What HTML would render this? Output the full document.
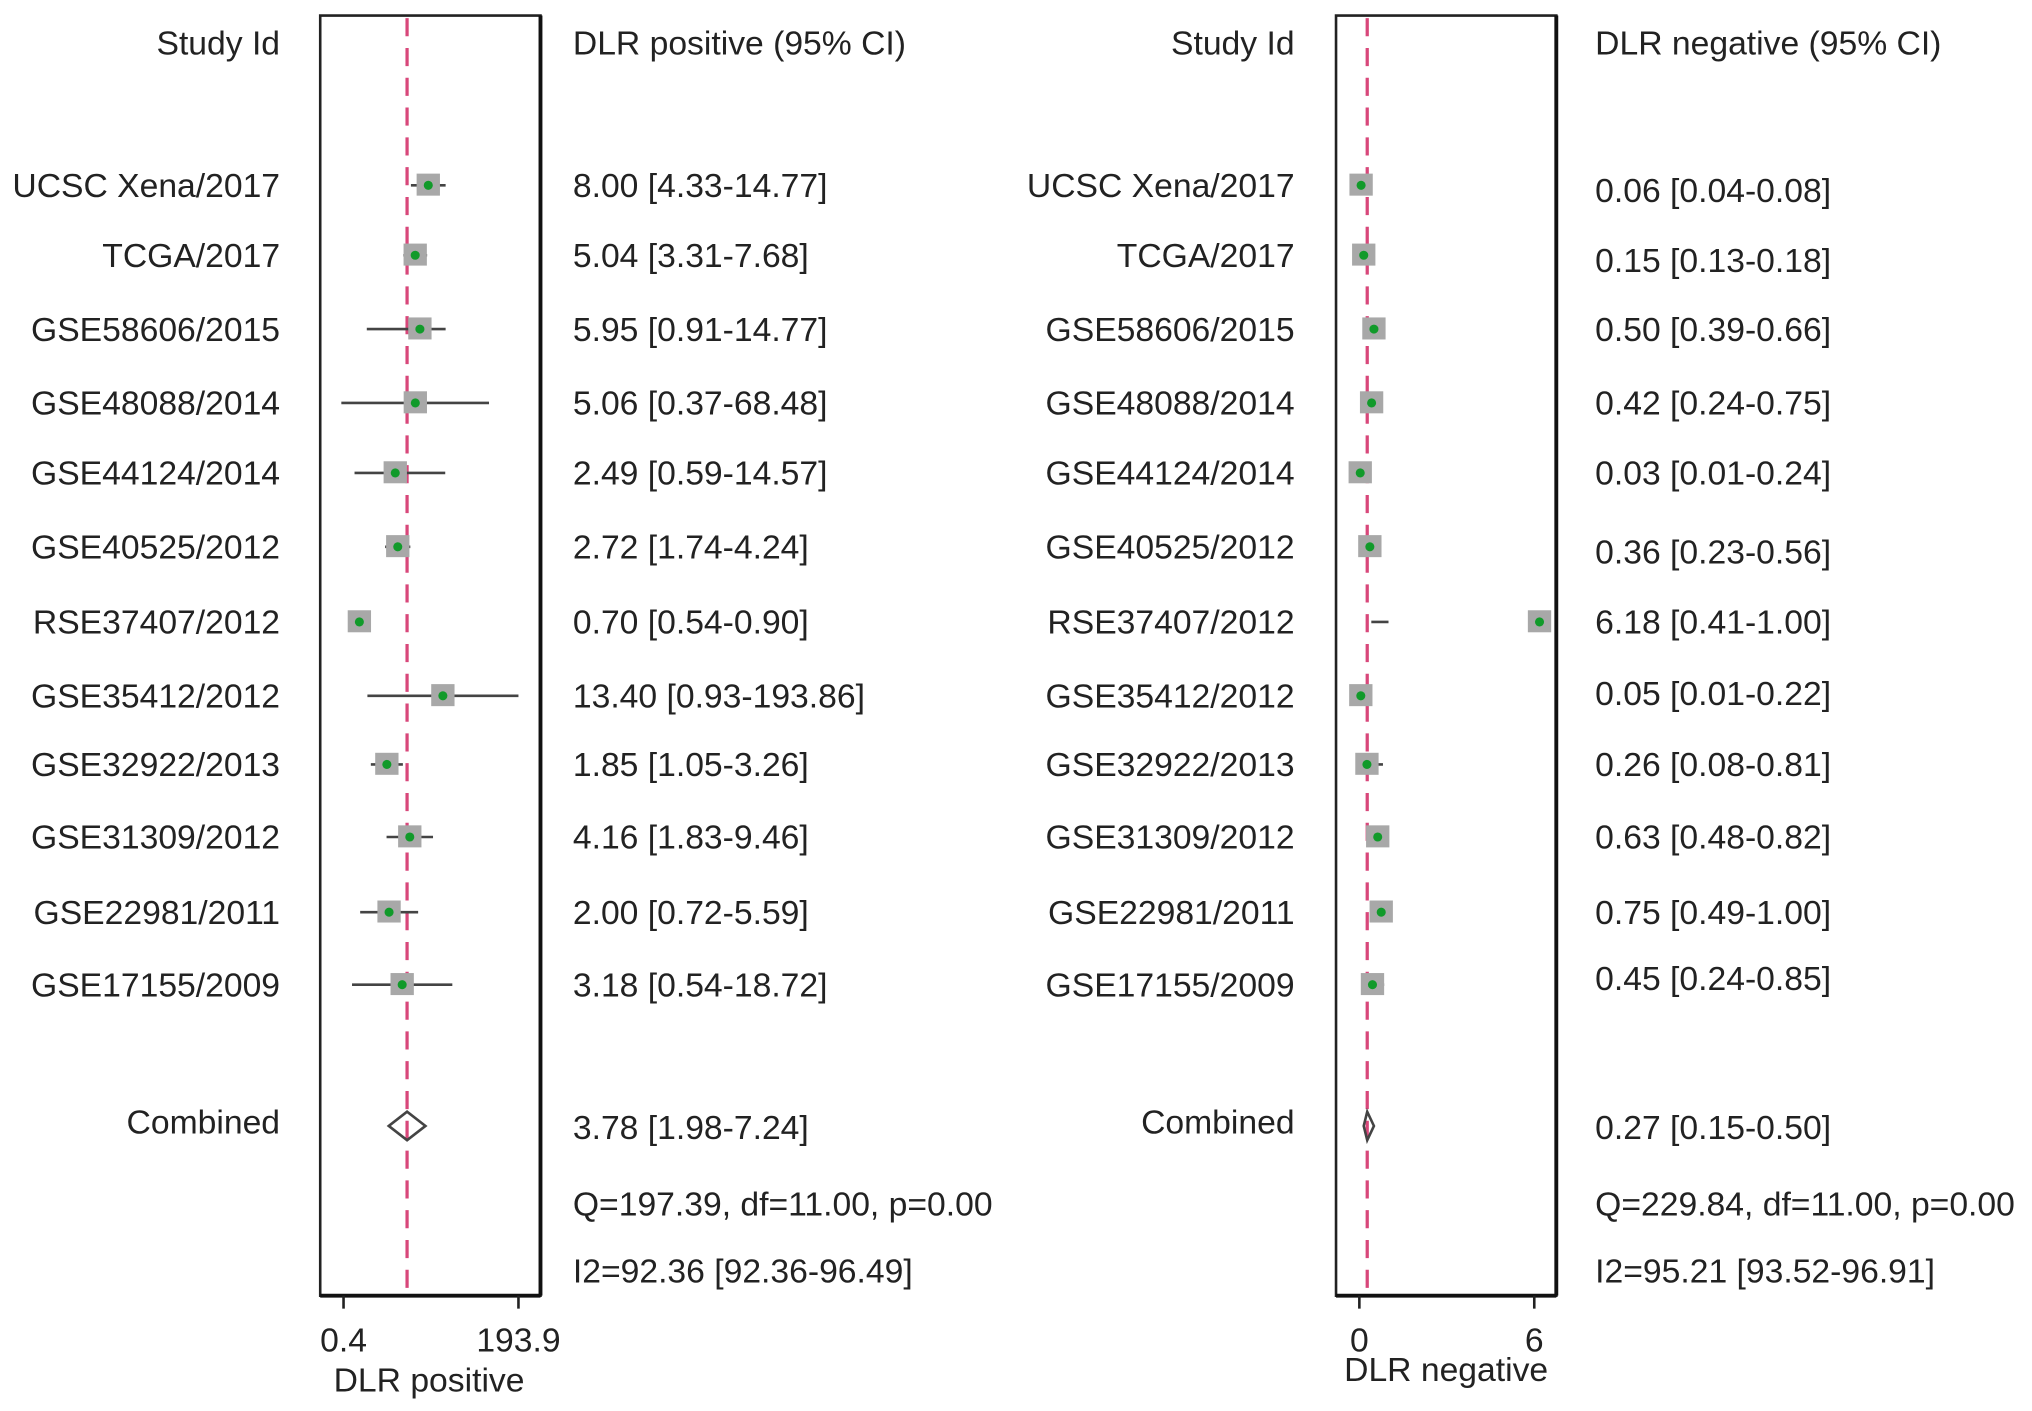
<!DOCTYPE html>
<html><head><meta charset="utf-8"><style>
html,body{margin:0;padding:0;background:#fff;}
svg{display:block;}
text{font-family:"Liberation Sans",sans-serif;font-size:26px;fill:#222;}
</style></head><body>
<svg id="chart" width="2032" height="1411" viewBox="0 0 1568 1089" xmlns="http://www.w3.org/2000/svg">
</svg>
<script>
const studies = ["UCSC Xena/2017","TCGA/2017","GSE58606/2015","GSE48088/2014","GSE44124/2014","GSE40525/2012","RSE37407/2012","GSE35412/2012","GSE32922/2013","GSE31309/2012","GSE22981/2011","GSE17155/2009"];
const posEst = [8.00,5.04,5.95,5.06,2.49,2.72,0.70,13.40,1.85,4.16,2.00,3.18];
const posLo = [4.33,3.31,0.91,0.37,0.59,1.74,0.54,0.93,1.05,1.83,0.72,0.54];
const posHi = [14.77,7.68,14.77,68.48,14.57,4.24,0.90,193.86,3.26,9.46,5.59,18.72];
const posComb = [3.78,1.98,7.24];
const negEst = [0.06,0.15,0.50,0.42,0.03,0.36,6.18,0.05,0.26,0.63,0.75,0.45];
const negLo = [0.04,0.13,0.39,0.24,0.01,0.23,0.41,0.01,0.08,0.48,0.49,0.24];
const negHi = [0.08,0.18,0.66,0.75,0.24,0.56,1.00,0.22,0.81,0.82,1.00,0.85];
const negComb = [0.27,0.15,0.50];
const posStats = ["Q=197.39, df=11.00, p=0.00","I2=92.36 [92.36-96.49]"];
const negStats = ["Q=229.84, df=11.00, p=0.00","I2=95.21 [93.52-96.91]"];
const posTicks = [0.4,193.9];
const posTickLabels = ["0.4","193.9"];
const negTicks = [0,6];
const negTickLabels = ["0","6"];

const rowY = [143,197,254,311,365,422,480,537,590,646,704,760];
const combY = 869;
const svg = document.getElementById('chart');
const NS = "http://www.w3.org/2000/svg";
function mk(tag, attrs, parent){const e=document.createElementNS(NS,tag);for(const k in attrs)e.setAttribute(k,attrs[k]);(parent||svg).appendChild(e);return e;}
function txt(s,x,y,anchor,parent){const t=mk('text',{x:x,y:y,'text-anchor':anchor||'start'},parent);t.textContent=s;return t;}
function fmt(v){return v.toFixed(2);}

function panel(cfg){
  const g=mk('g',{});
  
  
  const X=cfg.scale;
  const h1=txt("Study Id",cfg.labelX,42,'end',g);
  
  const h2=txt(cfg.header,cfg.valX,42,'start',g);
  
  const b=mk('path',{d:`M${cfg.x0},${1000} L${cfg.x0},12 L${cfg.x1},12 L${cfg.x1},1000 Z`,fill:'none',stroke:'#222','stroke-width':2},g);
  
  mk('line',{x1:cfg.x1,y1:12,x2:cfg.x1,y2:1000,stroke:'#111','stroke-width':3},g);
  mk('line',{x1:cfg.x0,y1:1000,x2:cfg.x1,y2:1000,stroke:'#111','stroke-width':3},g);
  const r=mk('line',{x1:X(cfg.comb[0]),y1:14,x2:X(cfg.comb[0]),y2:999,stroke:'#d8477a','stroke-width':2.5,'stroke-dasharray':'14,9'},g);
  
  studies.forEach((s,i)=>{
    const y=rowY[i];
    const l=txt(s,cfg.labelX,y+9,'end',g);
    
    const v=txt(`${fmt(cfg.est[i])} [${fmt(cfg.lo[i])}-${fmt(cfg.hi[i])}]`,cfg.valX,y+(cfg.valDy?cfg.valDy[i]:9),'start',g);
    
    const ci=mk('line',{x1:X(cfg.lo[i]),y1:y,x2:X(cfg.hi[i]),y2:y,stroke:'#444','stroke-width':2},g);
    
    const sq=mk('rect',{x:X(cfg.est[i])-9,y:y-9,width:18,height:17,fill:'#a8a8a8'},g);
    
    const pt=mk('circle',{cx:X(cfg.est[i]),cy:y,r:3.5,fill:'#119a2a'},g);
    
  });
  const cl=txt("Combined",cfg.labelX,combY+6,'end',g);
  
  const cv=txt(`${fmt(cfg.comb[0])} [${fmt(cfg.comb[1])}-${fmt(cfg.comb[2])}]`,cfg.valX,combY+10,'start',g);
  
  const d=mk('polygon',{points:`${X(cfg.comb[1])},${combY} ${X(cfg.comb[0])},${combY-11} ${X(cfg.comb[2])},${combY} ${X(cfg.comb[0])},${combY+11}`,fill:'none',stroke:'#444','stroke-width':2},g);
  
  cfg.stats.forEach((s,i)=>{const t=txt(s,cfg.valX,938+i*52,'start',g);
    });
  cfg.ticks.forEach((tv,i)=>{
    mk('line',{x1:X(tv),y1:1000,x2:X(tv),y2:1010,stroke:'#222','stroke-width':2},g);
    const t=txt(cfg.tickLabels[i],X(tv),1043,'middle',g);
    
  });
  const at=txt(cfg.axisTitle,cfg.axisX,cfg.axisY,'middle',g);
  
}
const lp=v=>265+(Math.log(v)-Math.log(0.4))/(Math.log(193.9)-Math.log(0.4))*135;
panel({name:'dlr-positive-panel',scale:lp,x0:247,x1:417,labelX:216,valX:442,header:"DLR positive (95% CI)",
  est:posEst,lo:posLo,hi:posHi,comb:posComb,stats:posStats,ticks:posTicks,tickLabels:posTickLabels,
  axisTitle:"DLR positive",axisX:331,axisY:1074});
const ln=v=>1049+v/6*135;
panel({name:'dlr-negative-panel',scale:ln,x0:1031,x1:1201,labelX:999,valX:1231,header:"DLR negative (95% CI)",
  est:negEst,lo:negLo,hi:negHi,comb:negComb,stats:negStats,ticks:negTicks,tickLabels:negTickLabels,
  valDy:[13,13,9,9,9,13,9,7,9,9,9,4],
  axisTitle:"DLR negative",axisX:1116,axisY:1066});
</script>
</body></html>
